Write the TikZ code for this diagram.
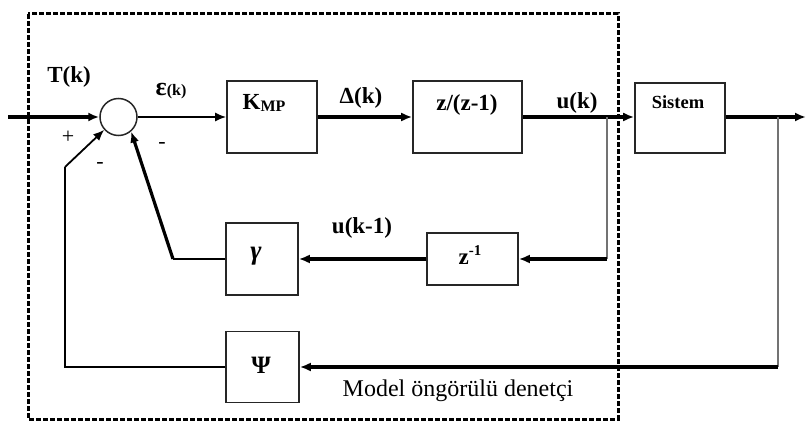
\documentclass[tikz,border=0pt]{standalone}
\usepackage{fontspec}
\setmainfont{Liberation Serif}
\usetikzlibrary{arrows.meta}
\begin{document}
\begin{tikzpicture}[x=1pt,y=-1pt,
  box/.style={draw=black!85, line width=1.6pt, inner sep=0pt, fill=white},
  sumnode/.style={draw=black!85, line width=1.5pt, circle, minimum size=37pt, inner sep=0pt},
  lbl/.style={inner sep=0pt, font=\bfseries\fontsize{23}{23}\selectfont},
  sgn/.style={inner sep=0pt, font=\fontsize{22}{22}\selectfont},
  thickline/.style={line width=3.2pt},
  thinline/.style={line width=1.8pt},
  tapline/.style={line width=1.8pt, draw=black!55},
  tip/.style={-{Latex[length=11pt,width=9pt]}},
  frame/.style={line width=3pt, dash pattern=on 5pt off 2pt}
]
\useasboundingbox (0,0) rectangle (806,422);

% controller frame
\draw[frame] (28,14) rectangle (618,419);

% blocks
\node[sumnode] (sum) at (118.5,117) {};
\node[box, minimum width=90pt, minimum height=72pt] (K) at (272,117) {};
\node[box, minimum width=109pt, minimum height=72pt] (Z) at (467.5,117) {};
\node[box, minimum width=90pt, minimum height=70pt] (S) at (680,118) {};
\node[box, minimum width=72pt, minimum height=72pt] (G) at (262,259) {};
\node[box, minimum width=91pt, minimum height=52pt] (D) at (472.5,259) {};
\node[box, minimum width=73pt, minimum height=71pt] (P) at (262.5,367) {};

% block texts
\node[lbl] (tK) at (264,103) {K\raisebox{-0.12em}{\fontsize{16}{16}\selectfont MP}};
\node[lbl] (tZ) at (467,105) {z/(z-1)};
\node[inner sep=0pt, font=\bfseries\fontsize{18.5}{18.5}\selectfont] (tS) at (678,102) {Sistem};
\node[lbl, font=\bfseries\itshape\fontsize{27}{27}\selectfont] (tG) at (256,256) {γ};
\node[lbl] (tD) at (470,255) {z\raisebox{0.42em}{\fontsize{15}{15}\selectfont -1}};
\node[lbl, font=\bfseries\fontsize{25}{25}\selectfont] (tP) at (261,365) {Ψ};

% signal names
\node[lbl] (tT) at (69,77) {T(k)};
\node[lbl] (tE) at (171,91) {{\fontsize{26}{26}\selectfont ε}\fontsize{16}{16}\selectfont(k)};
\node[lbl] (tDelta) at (361,98) {Δ(k)};
\node[lbl] (tU) at (577,103) {u(k)};
\node[lbl] (tU1) at (362,228) {u(k-1)};
\node[inner sep=0pt, font=\fontsize{24}{24}\selectfont] (tM) at (458,391) {Model öngörülü denetçi};

% signs at the summing point
\node[sgn] (s1) at (68,137) {+};
\node[sgn] (s2) at (100,165) {-};
\node[sgn] (s3) at (162,145) {-};

% junction and corner points
\coordinate (in) at (8,117);
\coordinate (out) at (806,117);
\coordinate (b1) at (607,117);
\coordinate (b2) at (778,117);
\coordinate (c1) at (607,259);
\coordinate (c2) at (778,367);
\coordinate (g1) at (173,259);
\coordinate (p1) at (65,367);
\coordinate (p2) at (65,167);

% forward path
\draw[thickline, tip] (in) -- (sum.west);
\draw[thinline, tip] (sum.east) -- (K.west);
\draw[thickline, tip] (K.east) -- (Z.west);
\draw[thickline, tip] (Z.east) -- (S.west |- Z.east);
\draw[thickline, tip] (S.east |- Z.east) -- (out);

% feedback through the delay and gamma
\draw[tapline] (b1) -- (c1);
\draw[thickline, tip] (c1) -- (D.east);
\draw[thickline, tip] (D.west) -- (G.east);
\draw[thinline] (G.west) -- (g1);
\draw[thickline, tip] (g1) -- (sum.311);

% feedback through psi
\draw[tapline] (b2) -- (c2);
\draw[thickline, tip] (c2) -- (P.east);
\draw[thinline] (P.west) -- (p1) -- (p2);
\draw[thinline, tip] (p2) -- (sum.222);
\end{tikzpicture}
\end{document}
